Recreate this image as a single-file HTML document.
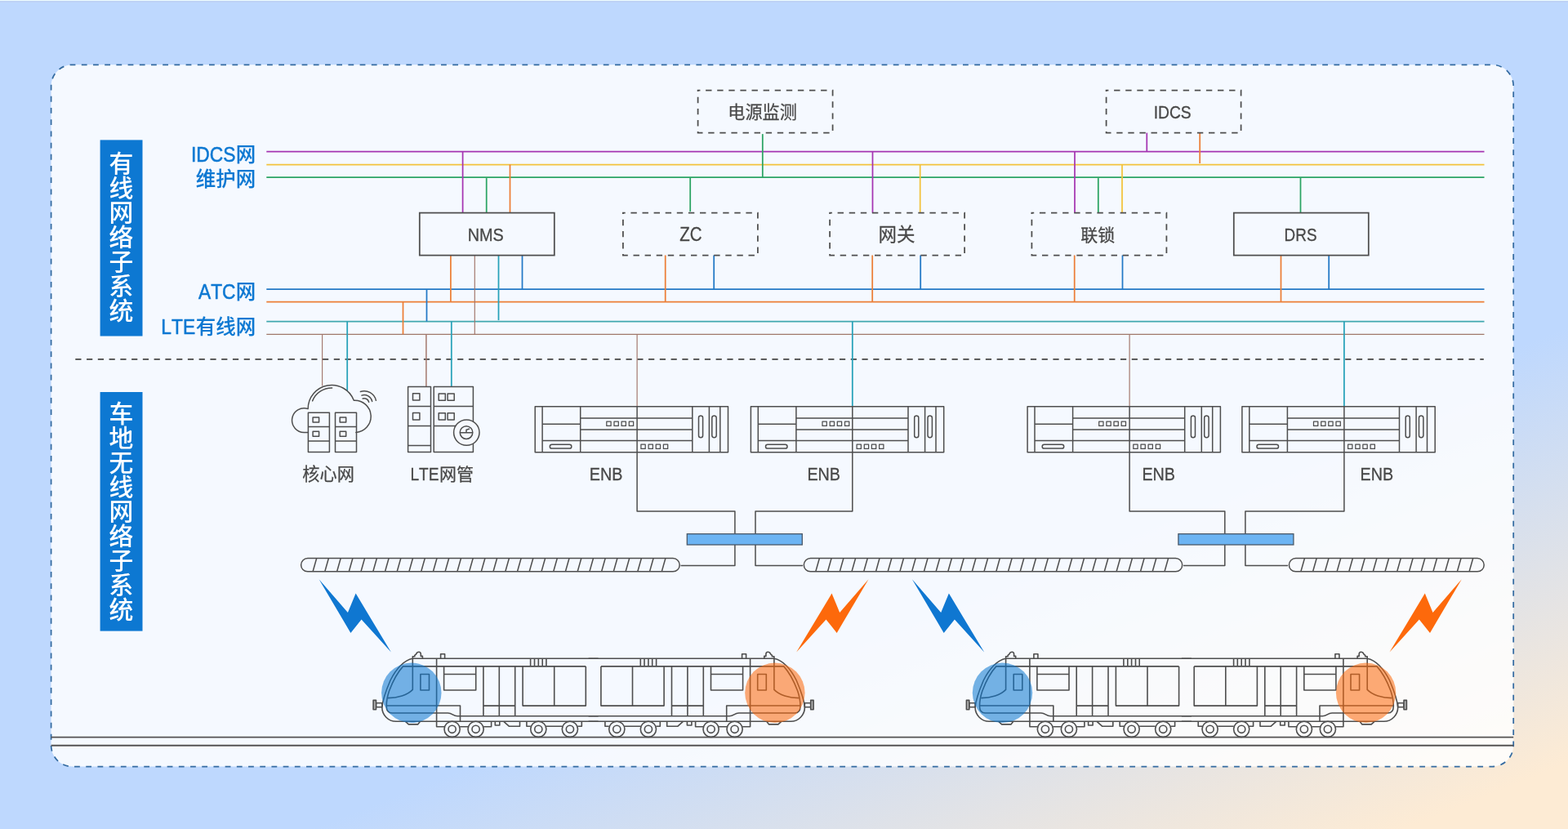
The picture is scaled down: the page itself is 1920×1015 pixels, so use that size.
<!DOCTYPE html>
<html lang="zh-CN">
<head>
<meta charset="utf-8">
<title>LTE-M train-ground wireless network topology</title>
<style>
html,body{margin:0;padding:0;}
body{width:1920px;height:1015px;overflow:hidden;position:relative;font-family:"Liberation Sans",sans-serif;
background:linear-gradient(158.2deg,#bed8fe 0%,#bed8fe 65.5%,#fdebd4 95.5%,#fdebd4 100%);}
.topline{position:absolute;left:0;top:0;width:1920px;height:1px;background:#eefcfd;}
.topline2{position:absolute;left:0;top:1px;width:1920px;height:2px;background:rgba(190,205,235,.45);}
svg{position:absolute;left:0;top:0;}
svg text{font-family:"Liberation Sans","Noto Sans CJK SC",sans-serif;font-kerning:none;filter:url(#nf);}
</style>
</head>
<body>
<div class="topline"></div><div class="topline2"></div>
<svg width="1920" height="1015" viewBox="0 0 1920 1015">
<defs>
<g id="enb" fill="none" stroke="#4e4e4e" stroke-width="1.5" stroke-linejoin="round">
<rect x="0" y="0" width="236.3" height="56.1"/>
<path d="M8.9 0V56.1M55.5 0V56.1M192.6 0V56.1M213.2 0V56.1M226.6 0V56.1"/>
<path d="M8.9 21.5H55.5M8.9 41.9H192.6M55.5 14.3H192.6M55.5 28.3H192.6"/>
<rect x="18.1" y="46.5" width="26.5" height="4.9" rx="2.45"/>
<rect x="200.3" y="11.3" width="5.1" height="26.8" rx="2.55"/><rect x="216.6" y="11.3" width="5.4" height="26.8" rx="2.7"/>
<path d="M87.6 18.4h5.3v5.3h-5.3zM96.8 18.4h5.3v5.3h-5.3zM105.9 18.4h5.3v5.3h-5.3zM115.1 18.4h5.3v5.3h-5.3zM129.7 46.3h5.3v5.4h-5.3zM138.9 46.3h5.3v5.4h-5.3zM148 46.3h5.3v5.4h-5.3zM157.2 46.3h5.3v5.4h-5.3z" stroke-width="1.25"/>
</g>
<path id="bolt" d="M390.6 709.3L425.9 749.9L435.6 726.6L478.9 798.6L442.6 758.5L429.4 774.9Z"/>
<g id="ht" fill="none" stroke="#4e4e4e" stroke-width="1.6" stroke-linejoin="round">
<path d="M726.6 806.3H505.3C495 808 485 819 478 833C473.5 843.5 468.5 856 467.8 866C467.8 875.5 475.5 883.3 485 883.3H726.6"/>
<path d="M717.3 815.9H493.5C487 823 481 834 476.5 846C474 853.5 473.2 859 473.2 864.5C473.2 869.5 475.5 873 480 873H548.5C554 873 554.5 876.8 560 876.8H726.6"/>
<path d="M475 854.6C487 854.6 499 851 505.3 844.4V806.3"/>
<path d="M505.3 806.3V803.8H507.8V802.4L509.6 800.8C510.2 799 511.8 798.2 513 798.2C514.5 798.2 515.3 799.5 515.3 801V803.4H517.4V806.3"/>
<path d="M539.6 806.3V800.7H544.6V806.3"/>
<path d="M473.3 864H563.5V883.3"/>
<path d="M534.6 806.3V889.7H544M563.2 889.7H573M592.2 889.7H601.6V883.3"/>
<rect x="514.9" y="825.5" width="10.6" height="19.5"/>
<path d="M543.6 815.9V845H582.7V815.9M543.6 825.5H582.7"/>
<path d="M591.9 815.9V876.8M611.3 815.9V876.8M630.7 815.9V876.8M591.9 864.1H630.7"/>
<path d="M640.1 815.9V864.1H717.3V815.9M678.7 815.9V864.1"/>
<path d="M649.6 806.3V815.9M654.5 806.3V815.9M659.3 806.3V815.9M664.2 806.3V815.9M668.9 806.3V815.9"/>
<path d="M496.5 883.3L500.3 886.9H511.6L514.5 883.3"/>
<path d="M606.3 883.3V888H611.8V883.3"/>
<path d="M616.8 883.3L623.5 889.3H636.5V883.3"/>
<path d="M644.9 883.3V889.3H649.7M668.9 889.3H688.3M707.5 889.3H712.3V883.3"/>
<circle cx="553.6" cy="892.8" r="9.6"/><circle cx="553.6" cy="892.8" r="4.6"/>
<circle cx="582.6" cy="892.8" r="9.6"/><circle cx="582.6" cy="892.8" r="4.6"/>
<circle cx="659.3" cy="892.8" r="9.6"/><circle cx="659.3" cy="892.8" r="4.6"/>
<circle cx="697.9" cy="892.8" r="9.6"/><circle cx="697.9" cy="892.8" r="4.6"/>
<rect x="460.5" y="860.8" width="7.3" height="5" />
<rect x="457.1" y="857.4" width="3.4" height="11.3" fill="#b0b0b0"/>
</g>
<g id="train"><path d="M720.6 806.3H732.6M720.6 876.8H732.6M720.6 883.3H732.6" fill="none" stroke="#4e4e4e" stroke-width="1.6" stroke-linejoin="round"/><use href="#ht"/><use href="#ht" transform="translate(1453.2 0) scale(-1 1)"/></g>
<filter id="nf" x="-5%" y="-20%" width="110%" height="140%"><feOffset dx="0" dy="0"/></filter>
</defs>
<rect x="62.6" y="79.3" width="1790.6" height="859.3" rx="26" ry="26" fill="#ffffff" fill-opacity="0.84" stroke="#346ba1" stroke-width="1.75" stroke-dasharray="6.8 7.4" stroke-dashoffset="3"/>
<g fill="none">
<path d="M326.3 185.6H1817.5" stroke="#a535b2" stroke-width="1.75"/>
<path d="M326.3 201.5H1817.5" stroke="#f3c33c" stroke-width="1.75"/>
<path d="M326.3 217.1H1817.5" stroke="#2ba463" stroke-width="1.75"/>
<path d="M326.3 354.2H1817.5" stroke="#2379c6" stroke-width="1.75"/>
<path d="M326.3 369.6H1817.5" stroke="#ec7f37" stroke-width="1.75"/>
<path d="M326.3 393.6H1817.5" stroke="#41a8af" stroke-width="1.75"/>
<path d="M326.3 409.34999999999997H1817.5" stroke="#a0786a" stroke-width="1.4"/>
<path d="M92.3 439.8H1816.8" stroke="#464646" stroke-width="1.7" stroke-dasharray="7.2 6.56"/>
<path d="M933.8 164.1V217.1" stroke="#2ba463" stroke-width="1.75"/>
<path d="M1404.3 162.6V185.6" stroke="#a535b2" stroke-width="1.75"/>
<path d="M1469.2 162.6V200.0" stroke="#ec7f37" stroke-width="1.75"/>
<path d="M566.6 185.6V260.6" stroke="#a535b2" stroke-width="1.75"/>
<path d="M595.7 218.1V260.6" stroke="#2ba463" stroke-width="1.75"/>
<path d="M624.5 201.5V260.6" stroke="#ec7f37" stroke-width="1.75"/>
<path d="M551.9 312.5V369.6" stroke="#ec7f37" stroke-width="1.75"/>
<path d="M581.3 312.5V409.2" stroke="#a07468" stroke-width="1.15"/>
<path d="M610.5 312.5V392.1" stroke="#27a2b9" stroke-width="1.75"/>
<path d="M639.5 312.5V354.2" stroke="#2379c6" stroke-width="1.75"/>
<path d="M522.5 354.2V393.6" stroke="#2379c6" stroke-width="1.75"/>
<path d="M493.5 369.6V409.2" stroke="#ec7f37" stroke-width="1.75"/>
<path d="M845.2 217.1V259.1" stroke="#2ba463" stroke-width="1.75"/>
<path d="M814.7 312.5V369.6" stroke="#ec7f37" stroke-width="1.75"/>
<path d="M874.2 312.5V354.2" stroke="#2379c6" stroke-width="1.75"/>
<path d="M1068.5 185.6V260.6" stroke="#a535b2" stroke-width="1.75"/>
<path d="M1126.7 201.5V260.6" stroke="#f3c33c" stroke-width="1.75"/>
<path d="M1068.2 312.5V369.6" stroke="#ec7f37" stroke-width="1.75"/>
<path d="M1127.2 312.5V354.2" stroke="#2379c6" stroke-width="1.75"/>
<path d="M1316 185.6V260.6" stroke="#a535b2" stroke-width="1.75"/>
<path d="M1344.8 218.1V260.6" stroke="#2ba463" stroke-width="1.75"/>
<path d="M1374 201.5V260.6" stroke="#f3c33c" stroke-width="1.75"/>
<path d="M1315.7 312.5V369.6" stroke="#ec7f37" stroke-width="1.75"/>
<path d="M1374.5 312.5V354.2" stroke="#2379c6" stroke-width="1.75"/>
<path d="M1592.5 217.1V260.6" stroke="#2ba463" stroke-width="1.75"/>
<path d="M1568.5 312.5V369.6" stroke="#ec7f37" stroke-width="1.75"/>
<path d="M1627.2 312.5V354.2" stroke="#2379c6" stroke-width="1.75"/>
<path d="M394.6 409.2V472.5" stroke="#a07468" stroke-width="1.1"/>
<path d="M425.2 393.6V478.5" stroke="#27a2b9" stroke-width="1.75"/>
<path d="M521.9 409.2V473.6" stroke="#a07468" stroke-width="1.45"/>
<path d="M552.8 393.6V473.6" stroke="#27a2b9" stroke-width="1.75"/>
<path d="M780.1 409.2V497.7" stroke="#a07468" stroke-width="1.15"/>
<path d="M1043.8 393.6V497.7" stroke="#27a2b9" stroke-width="1.75"/>
<path d="M1383.1 409.2V497.7" stroke="#a07468" stroke-width="1.15"/>
<path d="M1645.9 393.6V497.7" stroke="#27a2b9" stroke-width="1.75"/>
</g>
<rect x="854.6" y="110.6" width="165" height="52" fill="none" stroke="#4e4e4e" stroke-width="1.75" stroke-dasharray="7.4 6.7" stroke-dashoffset="4.6"/>
<rect x="1354.6" y="110.6" width="165" height="52" fill="none" stroke="#4e4e4e" stroke-width="1.75" stroke-dasharray="7.4 6.7" stroke-dashoffset="4.6"/>
<rect x="513.8" y="260.6" width="165" height="52" fill="none" stroke="#4e4e4e" stroke-width="1.75"/>
<rect x="762.9" y="260.6" width="165" height="52" fill="none" stroke="#4e4e4e" stroke-width="1.75" stroke-dasharray="7.4 6.7" stroke-dashoffset="4.6"/>
<rect x="1016.1" y="260.6" width="165" height="52" fill="none" stroke="#4e4e4e" stroke-width="1.75" stroke-dasharray="7.4 6.7" stroke-dashoffset="4.6"/>
<rect x="1263.4" y="260.6" width="165" height="52" fill="none" stroke="#4e4e4e" stroke-width="1.75" stroke-dasharray="7.4 6.7" stroke-dashoffset="4.6"/>
<rect x="1510.8" y="260.6" width="165" height="52" fill="none" stroke="#4e4e4e" stroke-width="1.75"/>
<g fill="none" stroke="#4e4e4e" stroke-width="1.5" stroke-linejoin="round" stroke-linecap="round">
<path d="M377.4 529.4H372.75A14.8 14.8 0 1 1 377.15 500.6A29 29 0 0 1 433.3 490.3A19.5 19.5 0 1 1 435.9 529.4H436.5"/>
<path d="M382.6 490.9A25.4 25.4 0 0 1 406.6 475.0"/>
<path d="M441.4 479.5A14.8 14.8 0 0 1 460.4 490.3"/>
<path d="M442.9 484.1A10.0 10.0 0 0 1 455.7 491.4"/>
<path d="M444.2 488.0A5.9 5.9 0 0 1 451.7 492.3"/>
</g>
<g fill="none" stroke="#4e4e4e" stroke-width="1.5" stroke-linejoin="round">
<rect x="377.4" y="505.3" width="26" height="48.3"/>
<path d="M377.4 522.6h26M377.4 540h26"/>
<rect x="383.09999999999997" y="511" width="7.5" height="5.9"/><rect x="383.09999999999997" y="528.3" width="7.5" height="5.9"/>
<rect x="410.5" y="505.3" width="26" height="48.3"/>
<path d="M410.5 522.6h26M410.5 540h26"/>
<rect x="416.2" y="511" width="7.5" height="5.9"/><rect x="416.2" y="528.3" width="7.5" height="5.9"/>
</g>
<g fill="none" stroke="#4e4e4e" stroke-width="1.5" stroke-linejoin="round">
<rect x="499.6" y="473.6" width="27.9" height="79.9"/><path d="M499.6 497.5h27.9M499.6 521.4h27.9M499.6 545.5h27.9"/>
<rect x="505.5" y="481.8" width="8.4" height="8.3"/><rect x="505.5" y="505.6" width="8.4" height="8.3"/>
<rect x="531.2" y="473.6" width="48.2" height="79.9"/><path d="M531.2 497.5h48.2M531.2 521.4h48.2"/>
<rect x="537.2" y="481.9" width="8.1" height="8.3"/><rect x="548.1" y="481.9" width="8.1" height="8.3"/>
<rect x="537.2" y="505.7" width="8.1" height="8.3"/><rect x="548.1" y="505.7" width="8.1" height="8.3"/>
<circle cx="571.3" cy="529.6" r="15.7" fill="#f6f9fe"/>
<circle cx="571" cy="529.6" r="7.8"/><path d="M563.2 529.8H578.8M571 529.8V526.3L575 525"/>
</g>
<use href="#enb" x="655.2" y="497.7"/>
<use href="#enb" x="919.4" y="497.7"/>
<use href="#enb" x="1258.1" y="497.7"/>
<use href="#enb" x="1520.9" y="497.7"/>
<g fill="none" stroke="#4e4e4e" stroke-width="1.5" stroke-linejoin="round" stroke-linejoin="miter">
<path d="M780.1 497.7V626H899.9V692.6H833.5"/>
<path d="M1043.8 497.7V626H925V692.6H983"/>
<path d="M1383.1 497.7V626H1499.8V692.6H1449"/>
<path d="M1645.9 497.7V626H1524.9V692.6H1577"/>
</g>
<rect x="841.3" y="653.7" width="141" height="13.3" fill="#6cb4f3" stroke="#4a5868" stroke-width="1.3"/>
<rect x="1442.9" y="653.7" width="141" height="13.3" fill="#6cb4f3" stroke="#4a5868" stroke-width="1.3"/>
<rect x="368.6" y="683.55" width="463.6" height="16.25" rx="8.12" fill="none" stroke="#4e4e4e" stroke-width="1.5" stroke-linejoin="round"/>
<path d="M383.1 699.8L387.7 683.55M397.8 699.8L402.4 683.55M412.6 699.8L417.2 683.55M427.3 699.8L431.9 683.55M442.0 699.8L446.6 683.55M456.8 699.8L461.4 683.55M471.5 699.8L476.1 683.55M486.2 699.8L490.8 683.55M500.9 699.8L505.5 683.55M515.7 699.8L520.3 683.55M530.4 699.8L535.0 683.55M545.1 699.8L549.7 683.55M559.9 699.8L564.5 683.55M574.6 699.8L579.2 683.55M589.3 699.8L593.9 683.55M604.0 699.8L608.6 683.55M618.8 699.8L623.4 683.55M633.5 699.8L638.1 683.55M648.2 699.8L652.8 683.55M663.0 699.8L667.6 683.55M677.7 699.8L682.3 683.55M692.4 699.8L697.0 683.55M707.2 699.8L711.8 683.55M721.9 699.8L726.5 683.55M736.6 699.8L741.2 683.55M751.3 699.8L755.9 683.55M766.1 699.8L770.7 683.55M780.8 699.8L785.4 683.55M795.5 699.8L800.1 683.55M810.3 699.8L814.9 683.55" fill="none" stroke="#4e4e4e" stroke-width="1.5" stroke-linejoin="round"/>
<rect x="984.3" y="683.55" width="463.4" height="16.25" rx="8.12" fill="none" stroke="#4e4e4e" stroke-width="1.5" stroke-linejoin="round"/>
<path d="M998.8 699.8L1003.4 683.55M1013.5 699.8L1018.1 683.55M1028.3 699.8L1032.9 683.55M1043.0 699.8L1047.6 683.55M1057.7 699.8L1062.3 683.55M1072.5 699.8L1077.0 683.55M1087.2 699.8L1091.8 683.55M1101.9 699.8L1106.5 683.55M1116.6 699.8L1121.2 683.55M1131.4 699.8L1136.0 683.55M1146.1 699.8L1150.7 683.55M1160.8 699.8L1165.4 683.55M1175.6 699.8L1180.2 683.55M1190.3 699.8L1194.9 683.55M1205.0 699.8L1209.6 683.55M1219.8 699.8L1224.3 683.55M1234.5 699.8L1239.1 683.55M1249.2 699.8L1253.8 683.55M1263.9 699.8L1268.5 683.55M1278.7 699.8L1283.3 683.55M1293.4 699.8L1298.0 683.55M1308.1 699.8L1312.7 683.55M1322.9 699.8L1327.5 683.55M1337.6 699.8L1342.2 683.55M1352.3 699.8L1356.9 683.55M1367.1 699.8L1371.7 683.55M1381.8 699.8L1386.4 683.55M1396.5 699.8L1401.1 683.55M1411.2 699.8L1415.8 683.55M1426.0 699.8L1430.6 683.55" fill="none" stroke="#4e4e4e" stroke-width="1.5" stroke-linejoin="round"/>
<rect x="1578.4" y="683.55" width="238.8" height="16.25" rx="8.12" fill="none" stroke="#4e4e4e" stroke-width="1.5" stroke-linejoin="round"/>
<path d="M1592.9 699.8L1597.5 683.55M1607.6 699.8L1612.2 683.55M1622.4 699.8L1627.0 683.55M1637.1 699.8L1641.7 683.55M1651.8 699.8L1656.4 683.55M1666.6 699.8L1671.2 683.55M1681.3 699.8L1685.9 683.55M1696.0 699.8L1700.6 683.55M1710.7 699.8L1715.3 683.55M1725.5 699.8L1730.1 683.55M1740.2 699.8L1744.8 683.55M1754.9 699.8L1759.5 683.55M1769.7 699.8L1774.3 683.55M1784.4 699.8L1789.0 683.55M1799.1 699.8L1803.7 683.55" fill="none" stroke="#4e4e4e" stroke-width="1.5" stroke-linejoin="round"/>
<use href="#bolt" fill="#0f77d1"/>
<use href="#bolt" fill="#fd690b" transform="translate(1454.1 0) scale(-1 1)"/>
<use href="#bolt" fill="#0f77d1" transform="translate(726.3 0)"/>
<use href="#bolt" fill="#fd690b" transform="translate(2180.4 0) scale(-1 1)"/>
<path d="M62.6 902.6H1853.2M62.6 912.7H1853.2" fill="none" stroke="#555353" stroke-width="1.85"/>
<use href="#train" transform="translate(0 0)"/>
<circle cx="503.8" cy="848.3" r="36.7" fill="#0b78d1" fill-opacity="0.56"/>
<circle cx="948.9" cy="848.3" r="36.7" fill="#fd6a0b" fill-opacity="0.56"/>
<use href="#train" transform="translate(726.3 0)"/>
<circle cx="1227.5" cy="848.3" r="36.7" fill="#0b78d1" fill-opacity="0.56"/>
<circle cx="1672.6" cy="848.3" r="36.7" fill="#fd6a0b" fill-opacity="0.56"/>
<g fill="#484848" stroke="#484848" stroke-width="12"><title>电源监测</title><text x="891.34" y="144.70" font-size="21.15" stroke="#484848" stroke-width="0.25">电源监测</text></g>
<g fill="#484848" stroke="#484848" stroke-width="12"><title>IDCS</title><text transform="translate(1412.67 144.70) scale(0.8576 1)" font-size="22.48" stroke="#484848" stroke-width="0.3">IDCS</text></g>
<g fill="#484848" stroke="#484848" stroke-width="12"><title>NMS</title><text transform="translate(572.72 294.70) scale(0.8842 1)" font-size="22.48" stroke="#484848" stroke-width="0.3">NMS</text></g>
<g fill="#484848" stroke="#484848" stroke-width="12"><title>ZC</title><text transform="translate(832.20 294.70) scale(0.8483 1)" font-size="24.08" stroke="#484848" stroke-width="0.3">ZC</text></g>
<g fill="#484848" stroke="#484848" stroke-width="12"><title>网关</title><text x="1075.52" y="295.00" font-size="22.5" stroke="#484848" stroke-width="0.27">网关</text></g>
<g fill="#484848" stroke="#484848" stroke-width="12"><title>联锁</title><text x="1323.20" y="294.70" font-size="21" stroke="#484848" stroke-width="0.25">联锁</text></g>
<g fill="#484848" stroke="#484848" stroke-width="12"><title>DRS</title><text transform="translate(1572.60 294.70) scale(0.8333 1)" font-size="22.69" stroke="#484848" stroke-width="0.3">DRS</text></g>
<g fill="#484848" stroke="#484848" stroke-width="12"><title>核心网</title><text x="370.30" y="588.40" font-size="21.2" stroke="#484848" stroke-width="0.25">核心网</text></g>
<g fill="#484848" stroke="#484848" stroke-width="12"><title>LTE网管</title><text transform="translate(502.38 588.20) scale(0.8572 1)" font-size="22.37" stroke="#484848" stroke-width="0.3">LTE</text><text x="538.03" y="588.20" font-size="21" stroke="#484848" stroke-width="0.25">网管</text></g>
<g fill="#484848" stroke="#484848" stroke-width="12"><title>ENB</title><text transform="translate(721.83 588.10) scale(0.8836 1)" font-size="22.37" stroke="#484848" stroke-width="0.3">ENB</text></g>
<g fill="#484848" stroke="#484848" stroke-width="12"><title>ENB</title><text transform="translate(988.43 588.10) scale(0.8836 1)" font-size="22.37" stroke="#484848" stroke-width="0.3">ENB</text></g>
<g fill="#484848" stroke="#484848" stroke-width="12"><title>ENB</title><text transform="translate(1398.43 588.10) scale(0.8836 1)" font-size="22.37" stroke="#484848" stroke-width="0.3">ENB</text></g>
<g fill="#484848" stroke="#484848" stroke-width="12"><title>ENB</title><text transform="translate(1665.53 588.10) scale(0.8836 1)" font-size="22.37" stroke="#484848" stroke-width="0.3">ENB</text></g>
<g fill="#0d78d2" stroke="#0d78d2" stroke-width="6"><title>IDCS网</title><text transform="translate(233.94 197.90) scale(0.8711 1)" font-size="26.19" stroke="#0d78d2" stroke-width="0.55">IDCS</text><text x="288.71" y="197.90" font-size="24.45" font-weight="500" stroke="#0d78d2" stroke-width="0.15">网</text></g>
<g fill="#0d78d2" stroke="#0d78d2" stroke-width="6"><title>维护网</title><text x="239.81" y="228.30" font-size="24.45" font-weight="500" stroke="#0d78d2" stroke-width="0.15">维护网</text></g>
<g fill="#0d78d2" stroke="#0d78d2" stroke-width="6"><title>ATC网</title><text transform="translate(242.99 365.80) scale(0.8690 1)" font-size="26.19" stroke="#0d78d2" stroke-width="0.55">ATC</text><text x="288.71" y="365.80" font-size="24.45" font-weight="500" stroke="#0d78d2" stroke-width="0.15">网</text></g>
<g fill="#0d78d2" stroke="#0d78d2" stroke-width="6"><title>LTE有线网</title><text transform="translate(197.33 409.10) scale(0.8699 1)" font-size="26.19" stroke="#0d78d2" stroke-width="0.55">LTE</text><text x="239.81" y="409.10" font-size="24.45" font-weight="500" stroke="#0d78d2" stroke-width="0.15">有线网</text></g>
<rect x="122.6" y="171.4" width="51.9" height="240.1" fill="#0d78d2"/>
<rect x="122.6" y="480" width="51.9" height="292.6" fill="#0d78d2"/>
<g fill="#ffffff"><title>有线网络子系统</title><text font-size="29.85" font-weight="500" fill="#ffffff" stroke="none"><tspan x="133.57" y="211.37">有</tspan><tspan x="133.57" y="241.27">线</tspan><tspan x="133.57" y="271.17">网</tspan><tspan x="133.57" y="301.07">络</tspan><tspan x="133.57" y="330.97">子</tspan><tspan x="133.57" y="360.87">系</tspan><tspan x="133.57" y="390.77">统</tspan></text></g>
<g fill="#ffffff"><title>车地无线网络子系统</title><text font-size="29.85" font-weight="500" fill="#ffffff" stroke="none"><tspan x="133.57" y="516.90">车</tspan><tspan x="133.57" y="546.91">地</tspan><tspan x="133.57" y="576.92">无</tspan><tspan x="133.57" y="606.93">线</tspan><tspan x="133.57" y="636.94">网</tspan><tspan x="133.57" y="666.95">络</tspan><tspan x="133.57" y="696.96">子</tspan><tspan x="133.57" y="726.97">系</tspan><tspan x="133.57" y="756.98">统</tspan></text></g>
</svg>
</body>
</html>
